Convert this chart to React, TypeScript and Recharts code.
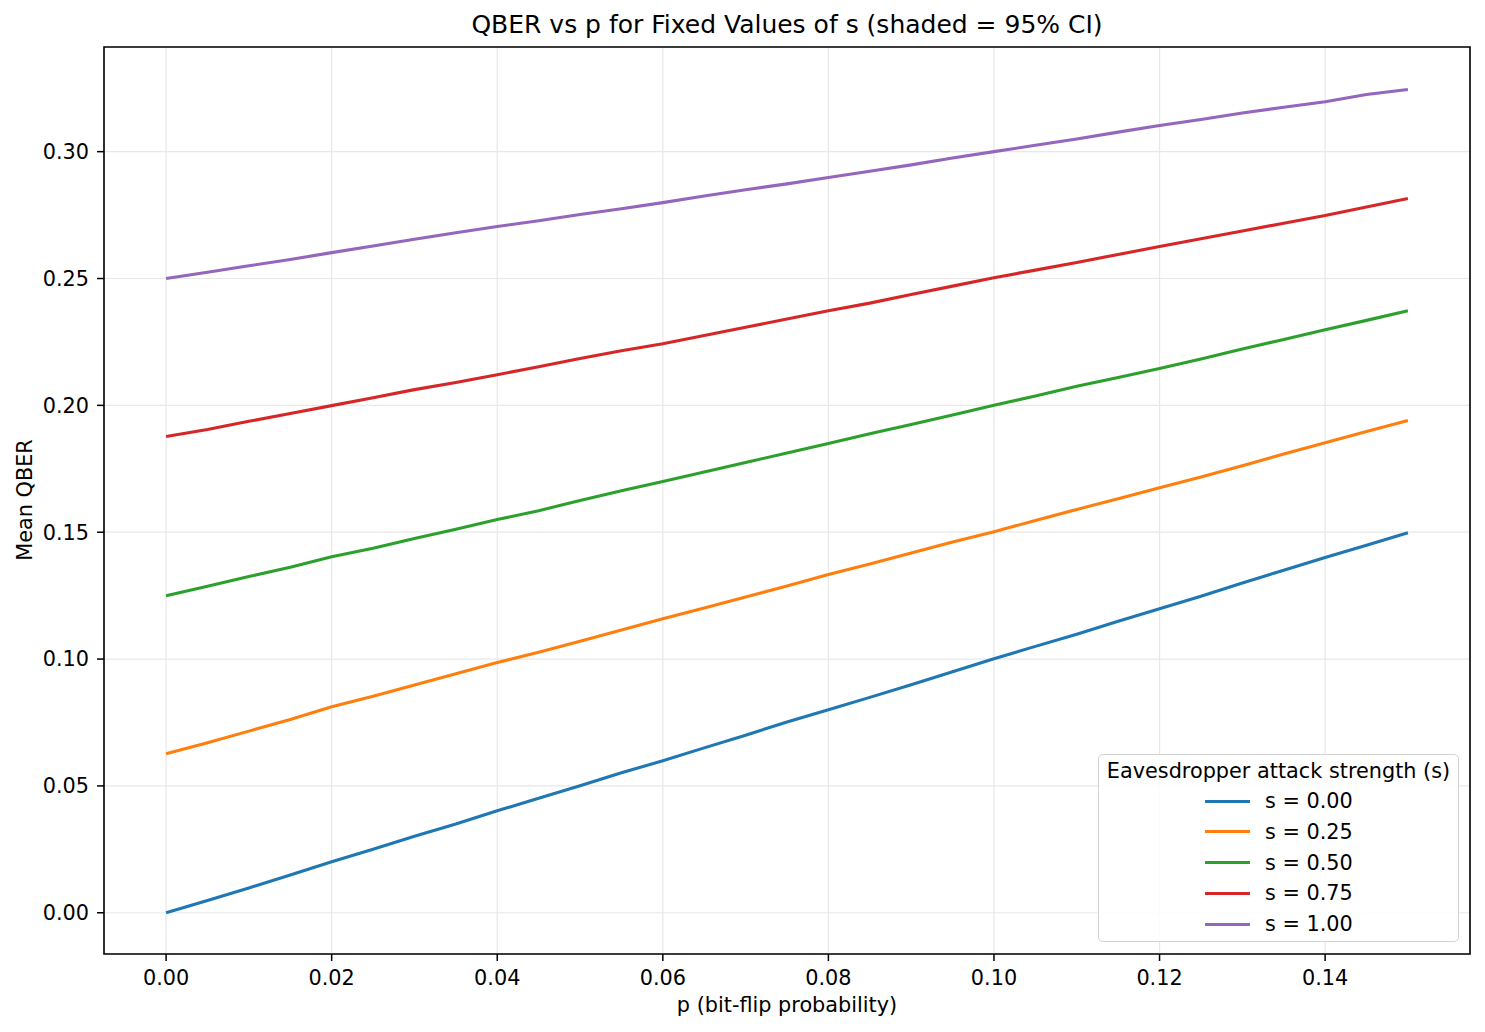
import React from "react";
import { LineChart, Line, XAxis, YAxis, CartesianGrid, Legend, ReferenceArea } from "recharts";

const pValues = [
  0, 0.005, 0.01, 0.015, 0.02, 0.025, 0.03, 0.035, 0.04, 0.045, 0.05, 0.055, 0.06, 0.065, 0.07, 0.075,
  0.08, 0.085, 0.09, 0.095, 0.1, 0.105, 0.11, 0.115, 0.12, 0.125, 0.13, 0.135, 0.14, 0.145, 0.15,
];

const qberS000 = [
  0, 0.0048, 0.0098, 0.0149, 0.0201, 0.025, 0.0302, 0.035, 0.0402, 0.0451, 0.0501, 0.0552, 0.0599, 0.065, 0.07, 0.0752,
  0.08, 0.0849, 0.0899, 0.095, 0.1001, 0.105, 0.1098, 0.1149, 0.1198, 0.1248, 0.13, 0.135, 0.14, 0.1449, 0.1498,
];
const qberS025 = [
  0.0627, 0.067, 0.0716, 0.0762, 0.0812, 0.0853, 0.0898, 0.0942, 0.0986, 0.1027, 0.107, 0.1115, 0.1159, 0.1201, 0.1245, 0.1288,
  0.1333, 0.1375, 0.1418, 0.1461, 0.1502, 0.1546, 0.159, 0.1632, 0.1675, 0.1718, 0.1762, 0.1808, 0.1853, 0.1897, 0.194,
];
const qberS050 = [
  0.125, 0.1287, 0.1325, 0.1362, 0.1403, 0.1437, 0.1475, 0.1512, 0.155, 0.1585, 0.1625, 0.1663, 0.17, 0.1737, 0.1775, 0.1812,
  0.185, 0.1888, 0.1925, 0.1962, 0.2, 0.2037, 0.2075, 0.211, 0.2145, 0.2183, 0.2222, 0.226, 0.2298, 0.2335, 0.2373,
];
const qberS075 = [
  0.1877, 0.1905, 0.1937, 0.1968, 0.1999, 0.203, 0.2062, 0.209, 0.2121, 0.2152, 0.2185, 0.2215, 0.2243, 0.2275, 0.2308, 0.234,
  0.2373, 0.2403, 0.2437, 0.247, 0.2503, 0.2533, 0.2563, 0.2595, 0.2626, 0.2657, 0.2687, 0.2718, 0.2748, 0.2782, 0.2815,
];
const qberS100 = [
  0.25, 0.2525, 0.255, 0.2575, 0.2602, 0.2628, 0.2655, 0.268, 0.2705, 0.2728, 0.2752, 0.2775, 0.2799, 0.2825, 0.285, 0.2873,
  0.2898, 0.2923, 0.2948, 0.2975, 0.3, 0.3025, 0.305, 0.3077, 0.3103, 0.3127, 0.3152, 0.3175, 0.3197, 0.3225, 0.3245,
];

const seriesKeys = ["s000", "s025", "s050", "s075", "s100"];
const seriesNames = ["s = 0.00", "s = 0.25", "s = 0.50", "s = 0.75", "s = 1.00"];
const seriesColors = ["#1f77b4", "#ff7f0e", "#2ca02c", "#d62728", "#9467bd"];
const seriesValues = [qberS000, qberS025, qberS050, qberS075, qberS100];

const xTicks = [0, 0.02, 0.04, 0.06, 0.08, 0.1, 0.12, 0.14];
const yTicks = [0, 0.05, 0.1, 0.15, 0.2, 0.25, 0.3];
const xDomain = [-0.0075, 0.1575];
const yDomain = [-0.01625, 0.34125];

const chartTitle = "QBER vs p for Fixed Values of s (shaded = 95% CI)";
const xLabel = "p (bit-flip probability)";
const yLabel = "Mean QBER";
const legendTitle = "Eavesdropper attack strength (s)";

const tableData = pValues.map((p, i) => {
  const row: Record<string, number> = { p };
  seriesKeys.forEach((k, j) => {
    row[k] = seriesValues[j][i];
  });
  return row;
});

const FONT = "'DejaVu Sans', sans-serif";
const FS = 20.8;

const renderLegend = (props: any) => {
  const payload = props.payload || [];
  return (
    <div
      style={{
        position: "relative",
        width: 361,
        height: 188,
        boxSizing: "border-box",
        border: "1.5px solid #d3d3d3",
        borderRadius: 5,
        background: "rgba(255,255,255,0.85)",
        fontFamily: FONT,
        fontSize: FS,
        color: "#000",
      }}
    >
      <div
        style={{
          position: "absolute",
          left: 0,
          top: 3,
          width: "100%",
          textAlign: "center",
          lineHeight: "26px",
          whiteSpace: "nowrap",
        }}
      >
        {legendTitle}
      </div>
      {payload.map((entry: any, i: number) => (
        <div
          key={entry.value}
          style={{ position: "absolute", left: 0, top: 33 + i * 30.8, height: 26, width: "100%" }}
        >
          <div
            style={{
              position: "absolute",
              left: 106,
              top: 11.5,
              width: 45,
              height: 3,
              background: entry.color,
            }}
          />
          <div
            style={{ position: "absolute", left: 166, top: 0, lineHeight: "26px", whiteSpace: "nowrap" }}
          >
            {entry.value}
          </div>
        </div>
      ))}
    </div>
  );
};

export default function App() {
  return (
    <div
      style={{
        position: "absolute",
        left: 0,
        top: 0,
        width: 1485,
        height: 1032,
        background: "#fff",
        fontFamily: FONT,
      }}
    >
      <LineChart
        width={1485}
        height={1032}
        data={tableData}
        margin={{ top: 47, right: 15, bottom: 38, left: 44 }}
      >
        <CartesianGrid stroke="#e8e8e8" strokeWidth={1.2} vertical horizontal />
        <XAxis
          dataKey="p"
          type="number"
          domain={xDomain}
          ticks={xTicks}
          allowDataOverflow
          height={40}
          axisLine={false}
          tickLine={{ stroke: "#000", strokeWidth: 1.5 }}
          tickSize={7}
          tickMargin={9}
          tickFormatter={(v: number) => v.toFixed(2)}
          tick={{ fill: "#000", fontSize: FS, fontFamily: FONT }}
        />
        <YAxis
          type="number"
          domain={yDomain}
          ticks={yTicks}
          allowDataOverflow
          width={60}
          axisLine={false}
          tickLine={{ stroke: "#000", strokeWidth: 1.5 }}
          tickSize={7}
          tickMargin={8}
          tickFormatter={(v: number) => v.toFixed(2)}
          tick={{ fill: "#000", fontSize: FS, fontFamily: FONT }}
        />
        {seriesKeys.map((k, j) => (
          <Line
            key={k}
            type="linear"
            dataKey={k}
            name={seriesNames[j]}
            stroke={seriesColors[j]}
            strokeWidth={3.1}
            dot={false}
            activeDot={false}
            isAnimationActive={false}
          />
        ))}
        <ReferenceArea
          x1={xDomain[0]}
          x2={xDomain[1]}
          y1={yDomain[0]}
          y2={yDomain[1]}
          fill="none"
          fillOpacity={0}
          stroke="#000"
          strokeWidth={1.6}
          ifOverflow="extendDomain"
        />
        <Legend
          layout="horizontal"
          verticalAlign="middle"
          align="center"
          content={renderLegend}
          wrapperStyle={{ position: "absolute", left: 1098, top: 754, width: 361, height: 188 }}
        />
      </LineChart>
      <div
        style={{
          position: "absolute",
          left: 104,
          top: 10,
          width: 1366,
          textAlign: "center",
          fontSize: 25,
          lineHeight: "30px",
          color: "#000",
          whiteSpace: "nowrap",
        }}
      >
        {chartTitle}
      </div>
      <div
        style={{
          position: "absolute",
          left: 104,
          top: 992,
          width: 1366,
          textAlign: "center",
          fontSize: FS,
          lineHeight: "26px",
          color: "#000",
          whiteSpace: "nowrap",
        }}
      >
        {xLabel}
      </div>
      <div
        style={{
          position: "absolute",
          left: 25,
          top: 500,
          transform: "translate(-50%, -50%) rotate(-90deg)",
          fontSize: FS,
          lineHeight: "26px",
          color: "#000",
          whiteSpace: "nowrap",
        }}
      >
        {yLabel}
      </div>
    </div>
  );
}
